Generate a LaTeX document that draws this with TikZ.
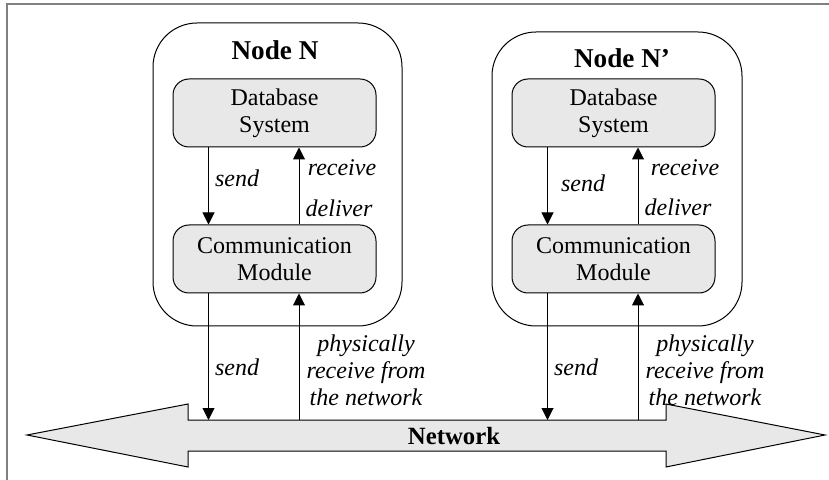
\documentclass[tikz,border=0pt]{standalone}
\usepackage{fontspec}
\setmainfont{Liberation Serif}
\usetikzlibrary{arrows.meta}
\definecolor{boxgray}{RGB}{232,232,232}
\definecolor{framegray}{RGB}{128,128,128}

\begin{document}
\begin{tikzpicture}[x=0.5pt,y=-0.5pt,
        site/.style={draw,line width=0.5pt,rounded corners=22pt,inner sep=0pt},
        module/.style={draw,fill=boxgray,line width=0.5pt,rounded corners=8pt,
            minimum width=101.5pt,minimum height=34pt,inner sep=0pt,align=center,
            font=\fontsize{12}{13.5}\selectfont},
        title/.style={font=\fontsize{13.6}{16}\selectfont\bfseries,inner sep=0pt},
        lbl/.style={font=\fontsize{12}{13.5}\selectfont\itshape,align=center,inner sep=0pt},
        flow/.style={-{Triangle[length=6pt,width=6pt]},line width=0.5pt}]
        \useasboundingbox (0,0) rectangle (829,480);
        \draw [color=framegray,line width=0.6pt] (829,4) -- (7,4) -- (7,480);

        \node [site,minimum width=124.5pt,minimum height=151.5pt] (siteN) at (277.5,174.5) {};
        \node [site,minimum width=125pt,minimum height=147pt] (siteM) at (617,179) {};
        \node [title] (titleN) at (275,50) {Node N};
        \node [title] (titleM) at (622,58) {Node N'};

        \node [module] (dbN) at (274.5,113) {Database\\System};
        \node [module] (comN) at (274.5,259) {Communication\\Module};
        \node [module] (dbM) at (613.5,113) {Database\\System};
        \node [module] (comM) at (613.5,259) {Communication\\Module};

        \filldraw [fill=boxgray,line width=0.5pt] (27,435) -- (188,404) -- (188,420) -- (666,420)
            -- (666,404) -- (825,435) -- (666,467) -- (666,451) -- (188,451) -- (188,467) -- cycle;
        \node [font=\fontsize{12.4}{14}\selectfont\bfseries,inner sep=0pt] (net) at (454,436) {Network};
        \coordinate (nettop) at (454,420);

        \foreach \n in {N,M}
            {\draw [flow] ([xshift=-33pt]db\n.south) -- ([xshift=-33pt]com\n.north);
             \draw [flow] ([xshift=12.25pt]com\n.north) -- ([xshift=12.25pt]db\n.south);
             \draw [flow] ([xshift=-33pt]com\n.south) -- ([xshift=-33pt]com\n.south |- nettop);
             \draw [flow] ([xshift=12.25pt]com\n.south |- nettop) -- ([xshift=12.25pt]com\n.south);}

        \node [lbl] (sendN) at (237,178) {send};
        \node [lbl] (receiveN) at (342,168) {receive};
        \node [lbl] (deliverN) at (339,208) {deliver};
        \node [lbl] (sendnetN) at (237,367) {send};
        \node [lbl] (physN) at (366,370) {physically\\receive from\\the network};

        \node [lbl] (sendM) at (583,183) {send};
        \node [lbl] (receiveM) at (685,168) {receive};
        \node [lbl] (deliverM) at (678,207) {deliver};
        \node [lbl] (sendnetM) at (576,367) {send};
        \node [lbl] (physM) at (705,370) {physically\\receive from\\the network};
    \end{tikzpicture}
\end{document}
